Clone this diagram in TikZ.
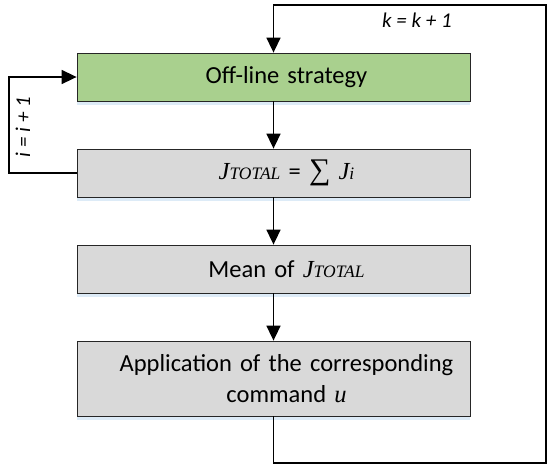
\documentclass[tikz,border=0pt]{standalone}
\usepackage{fontspec}
\setmainfont{Carlito}
\newfontfamily\tmsfont{Liberation Serif}
\usepackage{xcolor}
\usetikzlibrary{arrows.meta}
\usetikzlibrary{positioning}
\usetikzlibrary{shadows}

\definecolor{stepgreen}{RGB}{169,208,142}
\definecolor{stepgray}{RGB}{217,217,217}
\definecolor{shadeblue}{RGB}{221,235,247}

% cost symbols in a Times italic
\newcommand{\Jtot}{{\tmsfont\itshape J{\fontsize{17.5}{18}\selectfont TOTAL}}}
\newcommand{\Jsub}{{\tmsfont\itshape J{\fontsize{17.5}{18}\selectfont i}}}

\begin{document}
\begin{tikzpicture}[x=1pt,y=-1pt,
    stage/.style={draw=black!85, line width=0.8pt, fill=stepgray,
        minimum width=393pt, minimum height=48pt, inner sep=0pt,
        drop shadow={shadow xshift=0pt, shadow yshift=-4pt,
            fill=shadeblue, opacity=1}},
    stagetext/.style={text width=380pt, align=center, inner sep=0pt,
        font=\fontsize{24.5}{31}\selectfont},
    flow/.style={-{Triangle[width=14pt,length=15pt]}, line width=1.6pt},
    counter/.style={font=\fontsize{21}{24}\selectfont\itshape, inner sep=0pt}]
\useasboundingbox (0,0) rectangle (547,464);

% Define the shift of the texts inside the boxes
\def\txtshift{13pt}

% Draw the four stages of the loop
\node[stage, fill=stepgreen] (offline) at (273.5,77) {};
\node[stage] (jtotal) at (273.5,173) {};
\node[stage] (mean) at (273.5,269) {};
\node[stage, minimum height=75pt] (apply) at (273.5,378.5) {};

% Texts of the stages
\node[stagetext] (offlinetxt) at ([xshift=\txtshift]offline.center) {Off-line strategy};
\node[stagetext] (jtotaltxt) at ([xshift=\txtshift]jtotal.center)
    {\Jtot{} = {\tmsfont\fontsize{30}{30}\selectfont ∑} \Jsub};
\node[stagetext] (meantxt) at ([xshift=\txtshift]mean.center) {Mean of \Jtot};
\node[stagetext] (applytxt) at ([xshift=\txtshift]apply.center)
    {Application of the corresponding\\command {\tmsfont\itshape u}};

% Straight arrows between the stages
\draw[flow] (offline) -- (jtotal);
\draw[flow] (jtotal) -- (mean);
\draw[flow] (mean) -- (apply);

% Outer loop back to the strategy
\coordinate (botright) at (546,463);
\coordinate (topright) at (546,5);
\draw[flow] (apply.south) -- (apply.south |- botright) -- (botright)
    -- (topright) -- (offline.north |- topright) -- (offline.north);
\node[counter] (kstep) at (417,20) {k = k + 1};

% Inner loop on i
\coordinate (leftside) at (9,0);
\draw[flow] (jtotal.west) -- (jtotal.west -| leftside)
    -- (offline.west -| leftside) -- (offline.west);
\node[counter, rotate=90] (istep) at (23,127) {i = i + 1};
\end{tikzpicture}
\end{document}
